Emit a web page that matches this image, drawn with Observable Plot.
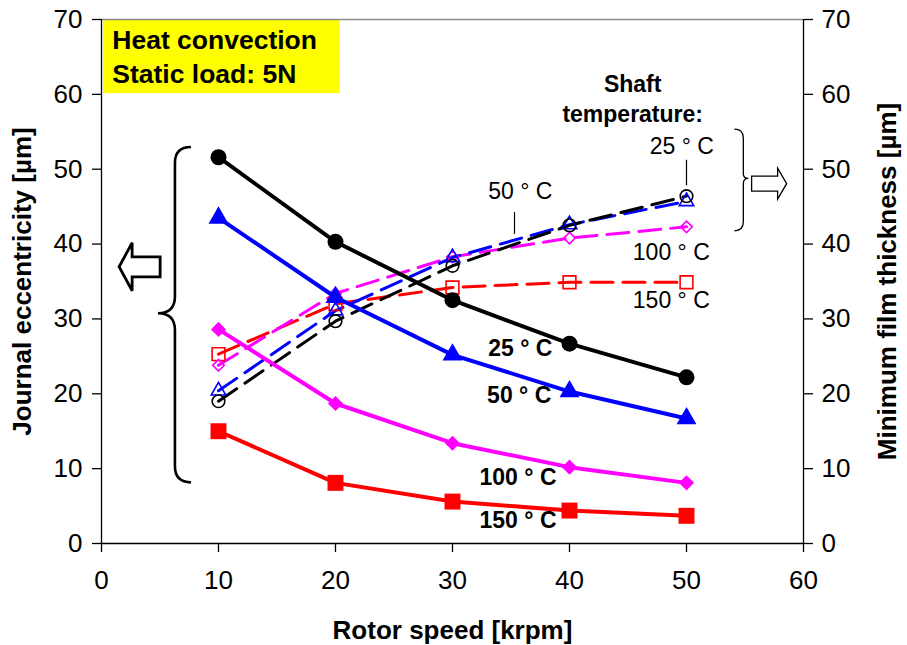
<!DOCTYPE html>
<html>
<head>
<meta charset="utf-8">
<script src="https://cdn.jsdelivr.net/npm/d3@7"></script>
<script src="https://cdn.jsdelivr.net/npm/@observablehq/plot@0.6"></script>
<style>
  html, body { margin: 0; padding: 0; background: #fff; }
  #chart svg { display: block; }
</style>
</head>
<body>
<div id="chart"></div>
<script>
// ---- data ----
const speed = [10, 20, 30, 40, 50];
const tempLabels = ["25 ° C", "50 ° C", "100 ° C", "150 ° C"];
const seriesColors = ["#000000", "#0000ff", "#ff00ff", "#ff0000"];
const seriesSymbols = ["circle", "triangle", "diamond2", "square"];

// Journal eccentricity [µm] (solid, left axis)
const ecc25 = [51.6, 40.3, 32.5, 26.7, 22.2];
const ecc50 = [43.5, 32.9, 25.2, 20.3, 16.7];
const ecc100 = [28.6, 18.7, 13.4, 10.2, 8.1];
const ecc150 = [15.0, 8.1, 5.6, 4.4, 3.7];

// Minimum film thickness [µm] (dashed, right axis)
const film25 = [19.0, 29.7, 37.1, 42.5, 46.4];
const film50 = [20.4, 31.1, 38.2, 42.6, 45.7];
const film100 = [23.8, 33.4, 38.3, 40.8, 42.3];
const film150 = [25.3, 32.0, 34.2, 34.9, 34.9];

const xTicks = [0, 10, 20, 30, 40, 50, 60];
const yTicks = [0, 10, 20, 30, 40, 50, 60, 70];

const eccSeries = [ecc25, ecc50, ecc100, ecc150];
const filmSeries = [film25, film50, film100, film150];

function toRows(arrays) {
  const rows = [];
  arrays.forEach((arr, i) => arr.forEach((v, j) => rows.push({speed: speed[j], value: v, s: i})));
  return rows;
}
const eccRows = toRows(eccSeries);
const filmRows = toRows(filmSeries);

const font = "Liberation Sans, Arial, Helvetica, sans-serif";

// annotation anchors (data coordinates)
const regularLabels = [
  {x: 49.6, y: 53.0, text: tempLabels[0]},
  {x: 35.8, y: 47.0, text: tempLabels[1]},
  {x: 48.7, y: 38.9, text: tempLabels[2]},
  {x: 48.7, y: 32.4, text: tempLabels[3]}
];
const boldLabels = [
  {x: 35.8, y: 26.05, text: tempLabels[0]},
  {x: 35.7, y: 19.8, text: tempLabels[1]},
  {x: 35.6, y: 8.8, text: tempLabels[2]},
  {x: 35.6, y: 3.1, text: tempLabels[3]}
];
const leaders = [
  {x: 50.0, y1: 51.2, y2: 47.8},
  {x: 35.3, y1: 44.2, y2: 41.3}
];

const filledR = [8, 7.4, 6.8, 9];
const hollowR = [6.3, 5.4, 5.2, 7.2];

const chart = Plot.plot({
  width: 907,
  height: 645,
  marginLeft: 101,
  marginRight: 104,
  marginTop: 19,
  marginBottom: 102,
  style: {fontFamily: font, background: "#fff", color: "#000", overflow: "visible"},
  x: {domain: [0, 60]},
  y: {domain: [0, 70]},
  marks: [
    Plot.rect([0], {x1: 0.17, x2: 20.4, y1: 60.1, y2: 70, fill: "#ffff00"}),
    Plot.ruleY([70], {stroke: "#8c8c8c", strokeWidth: 1.5}),
    Plot.ruleX([0, 60], {stroke: "#000", strokeWidth: 1.3}),
    Plot.ruleY([0], {stroke: "#000", strokeWidth: 1.3}),
    Plot.axisY({anchor: "left", ticks: yTicks, tickSize: 9, tickPadding: 10, fontSize: 26, label: null, strokeWidth: 1.3}),
    Plot.axisY({anchor: "right", ticks: yTicks, tickSize: 9, tickPadding: 9, fontSize: 26, label: null, strokeWidth: 1.3}),
    Plot.axisX({anchor: "bottom", ticks: xTicks, tickSize: 9, tickPadding: 18, fontSize: 26, label: null, strokeWidth: 1.3}),

    // dashed film thickness
    ...[3, 2, 1, 0].map(i => Plot.line(filmRows.filter(d => d.s === i), {
      x: "speed", y: "value", stroke: seriesColors[i], strokeWidth: 3, strokeDasharray: "22,10"
    })),
    ...[3, 2, 1, 0].map(i => Plot.dot(filmRows.filter(d => d.s === i), {
      x: "speed", y: "value", symbol: () => seriesSymbols[i], stroke: seriesColors[i], fill: "none",
      strokeWidth: 1.6, r: hollowR[i]
    })),

    // solid eccentricity
    ...[3, 2, 1, 0].map(i => Plot.line(eccRows.filter(d => d.s === i), {
      x: "speed", y: "value", stroke: seriesColors[i], strokeWidth: 4
    })),
    ...[3, 2, 1, 0].map(i => Plot.dot(eccRows.filter(d => d.s === i), {
      x: "speed", y: "value", symbol: () => seriesSymbols[i], fill: seriesColors[i], stroke: "none",
      r: filledR[i]
    })),

    // leader lines
    Plot.ruleX(leaders, {x: "x", y1: "y1", y2: "y2", stroke: "#000", strokeWidth: 1.2}),

    // labels
    Plot.text(regularLabels, {x: "x", y: "y", text: "text", fontSize: 23, fill: "#000", textAnchor: "middle", lineAnchor: "middle"}),
    Plot.text(boldLabels, {x: "x", y: "y", text: "text", fontSize: 23, fontWeight: "bold", fill: "#000", textAnchor: "middle", lineAnchor: "middle"}),
    Plot.text(["Heat convection\nStatic load: 5N"], {x: 0.92, y: 65.2, text: d => d, fontSize: 26.5, fontWeight: "bold", textAnchor: "start", lineAnchor: "middle", lineHeight: 1.25, fill: "#000"}),
    Plot.text(["Shaft\ntemperature:"], {x: 45.4, y: 59.6, text: d => d, fontSize: 23, fontWeight: "bold", textAnchor: "middle", lineAnchor: "middle", lineHeight: 1.3, fill: "#000"}),

    // axis titles
    Plot.text(["Rotor speed [krpm]"], {frameAnchor: "bottom", text: d => d, dy: 87, fontSize: 26, fontWeight: "bold", lineAnchor: "middle", fill: "#000"}),
    Plot.text(["Journal eccentricity [µm]"], {frameAnchor: "left", text: d => d, dx: -79, rotate: -90, fontSize: 26, fontWeight: "bold", lineAnchor: "middle", textAnchor: "middle", fill: "#000"}),
    Plot.text(["Minimum film thickness [µm]"], {frameAnchor: "right", text: d => d, dx: 84, rotate: -90, fontSize: 26, fontWeight: "bold", lineAnchor: "middle", textAnchor: "middle", fill: "#000"})
  ]
});

document.getElementById("chart").appendChild(chart);

// ---- braces and hollow arrows, positioned via the plot's scales ----
const sx = chart.scale("x"), sy = chart.scale("y");
const X = v => sx.apply(v), Y = v => sy.apply(v);
const g = d3.select(chart).append("g").attr("fill", "none").attr("stroke", "#000").attr("stroke-linejoin", "miter");

function leftBrace(xv, yTop, yTip, yBot, rEnd, rTip, width) {
  const x = X(xv), t = Y(yTop), m = Y(yTip), b = Y(yBot);
  const p = `M${x + rEnd},${t} Q${x},${t} ${x},${t + rEnd} L${x},${m - rTip} Q${x},${m} ${x - rTip},${m} Q${x},${m} ${x},${m + rTip} L${x},${b - rEnd} Q${x},${b} ${x + rEnd},${b}`;
  g.append("path").attr("d", p).attr("stroke-width", width);
}
function rightBrace(xv, yTop, yTip, yBot, rEnd, rTip, width) {
  const x = X(xv), t = Y(yTop), m = Y(yTip), b = Y(yBot);
  const p = `M${x - rEnd},${t} Q${x},${t} ${x},${t + rEnd} L${x},${m - rTip} Q${x},${m} ${x + rTip},${m} Q${x},${m} ${x},${m + rTip} L${x},${b - rEnd} Q${x},${b} ${x - rEnd},${b}`;
  g.append("path").attr("d", p).attr("stroke-width", width);
}
// arrow: tip at (xt, yc) data; pixel geometry relative
function arrow(xt, yc, dir, headLen, headHalf, shaftLen, shaftHalf, width) {
  const tx = X(xt), cy = Y(yc);
  const hb = tx - dir * headLen, se = hb - dir * shaftLen;
  const p = `M${tx},${cy} L${hb},${cy - headHalf} L${hb},${cy - shaftHalf} L${se},${cy - shaftHalf} L${se},${cy + shaftHalf} L${hb},${cy + shaftHalf} L${hb},${cy + headHalf} Z`;
  g.append("path").attr("d", p).attr("stroke-width", width).attr("fill", "#fff");
}

leftBrace(6.32, 52.9, 30.7, 8.1, 16, 17, 2.6);
arrow(1.55, 36.9, -1, 13, 24, 28, 10, 2.8);
rightBrace(54.9, 55.3, 48.7, 41.7, 9, 5, 1.3);
arrow(58.6, 48.0, 1, 9, 15.5, 26, 7.5, 1.3);
</script>
</body>
</html>
